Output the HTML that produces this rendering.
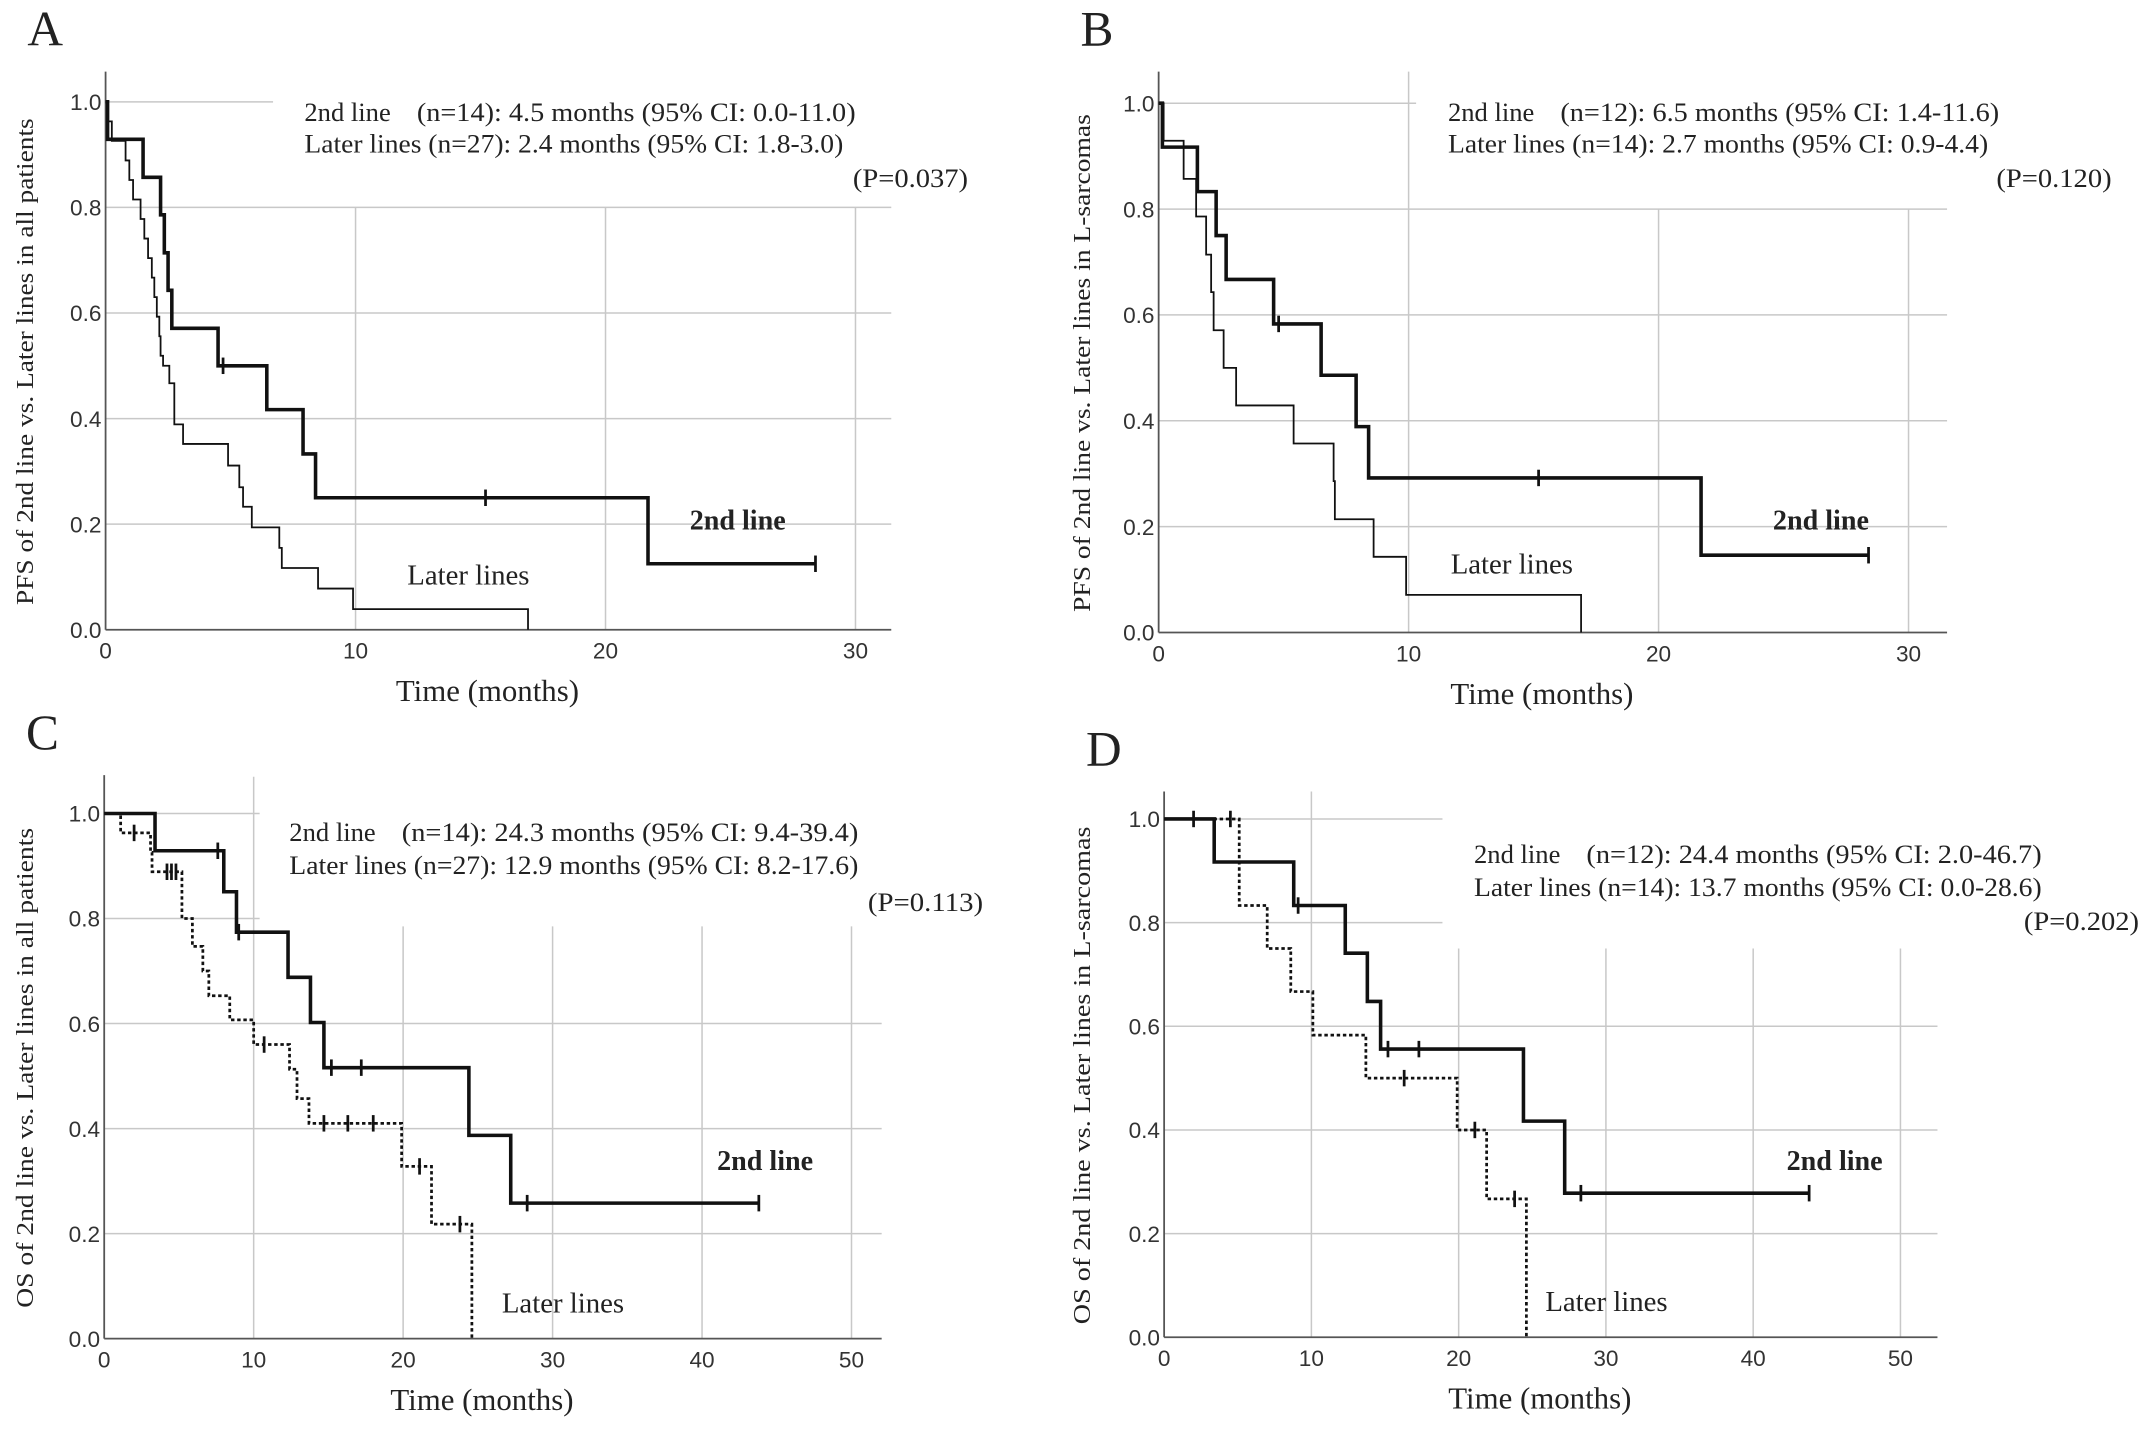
<!DOCTYPE html>
<html><head><meta charset="utf-8">
<style>
html,body{margin:0;padding:0;background:#fff;}
svg{display:block;}
.tick{font-family:"Liberation Sans",sans-serif;font-size:16.5px;fill:#333;}
.serif{font-family:"Liberation Serif",serif;fill:#222;}
</style></head>
<body>
<svg id="fig" width="2150" height="1435" viewBox="0 0 1568 1046" xmlns="http://www.w3.org/2000/svg"></svg>
<script>
// ---- data (times in months, survival proportions) ----
const aSecondT = [0.08,1.5,2.2,2.35,2.5,2.65,4.5,6.45,7.9,8.4,21.7];
const aSecondS = [0.929,0.857,0.786,0.714,0.643,0.571,0.5,0.417,0.333,0.25,0.125];
const aSecondCens = [4.7,15.2,28.4];
const aLaterT = [0.1,0.25,0.8,0.95,1.1,1.4,1.55,1.7,1.85,1.95,2.05,2.15,2.2,2.3,2.55,2.75,3.1,4.9,5.35,5.5,5.85,6.95,7.05,8.5,9.9,16.9];
const aLaterS = [0.963,0.926,0.889,0.852,0.815,0.778,0.741,0.704,0.667,0.630,0.593,0.556,0.519,0.5,0.467,0.389,0.352,0.311,0.27,0.233,0.194,0.155,0.117,0.078,0.039,0];
const aLaterCens = [];

const bSecondT = [0.15,1.55,2.3,2.7,4.6,6.5,7.9,8.4,21.7];
const bSecondS = [0.917,0.833,0.75,0.667,0.583,0.486,0.389,0.292,0.146];
const bSecondCens = [4.8,15.2,28.4];
const bLaterT = [0.2,1.0,1.5,1.9,2.1,2.2,2.6,3.1,5.4,7.0,7.05,8.6,9.9,16.9];
const bLaterS = [0.929,0.857,0.786,0.714,0.643,0.571,0.5,0.429,0.357,0.286,0.214,0.143,0.071,0];
const bLaterCens = [];

const cSecondT = [3.4,8.0,8.85,12.3,13.8,14.7,24.4,27.2];
const cSecondS = [0.929,0.851,0.774,0.688,0.602,0.516,0.387,0.258];
const cSecondCens = [7.6,9.0,15.2,17.2,28.3,43.8];
const cLaterT = [1.1,3.1,3.2,5.2,5.9,6.6,7.0,8.4,10.0,12.4,12.9,13.7,19.9,21.9,24.6];
const cLaterS = [0.963,0.926,0.889,0.80,0.747,0.70,0.653,0.607,0.56,0.513,0.457,0.41,0.328,0.218,0];
const cLaterCens = [2.0,4.2,4.5,4.8,10.7,14.7,16.3,18.0,21.1,23.8];

const dSecondT = [3.4,8.8,12.3,13.8,14.7,24.4,27.2];
const dSecondS = [0.917,0.833,0.741,0.648,0.556,0.417,0.278];
const dSecondCens = [2.0,9.1,15.2,17.3,28.3,43.8];
const dLaterT = [5.1,7.0,8.6,10.1,13.7,19.9,21.9,24.6];
const dLaterS = [0.833,0.75,0.667,0.583,0.5,0.4,0.267,0];
const dLaterCens = [4.5,16.3,21.1,23.8];

const yTicks = ["0.0","0.2","0.4","0.6","0.8","1.0"];
const xTicksPFS = ["0","10","20","30"];
const xTicksOS = ["0","10","20","30","40","50"];

const NS = "http://www.w3.org/2000/svg";
const svg = document.getElementById('fig');
function mk(tag, attrs, parent){
  const e = document.createElementNS(NS, tag);
  for (const k in attrs) e.setAttribute(k, attrs[k]);
  (parent||svg).appendChild(e); return e;
}
function survAt(T,S,t){ let s=1; for(let i=0;i<T.length;i++){ if(T[i]<=t) s=S[i]; } return s; }

const panels = [
 {id:'a', letter:'A', x0:77, per10:182.3, y1:74, y0:459, top:52, right:650, xt:xTicksPFS,
  oneEnd:6.7, vTop:{10:0.8}, vStart:0.8, hFullFrom:0.8,
  ytitle:'PFS of 2nd line vs. Later lines in all patients', ytx:18, ytLen:355,
  leg:[222,82,105], legA:'(n=14): 4.5 months (95% CI: 0.0-11.0)', legB:'Later lines (n=27): 2.4 months (95% CI: 1.8-3.0)', legAend:624, legBend:615,
  p:'(P=0.037)', pX:706, pY:136, lbl2:[503,386], lblL:[297,426],
  s2:[aSecondT,aSecondS,aSecondCens], sL:[aLaterT,aLaterS,aLaterCens], dotted:false},
 {id:'b', letter:'B', x0:845, per10:182.3, y1:75, y0:461, top:52, right:1420, xt:xTicksPFS,
  oneEnd:10.3, vTop:{10:1.07}, vStart:0.8, hFullFrom:0.8,
  ytitle:'PFS of 2nd line vs. Later lines in L-sarcomas', ytx:789, ytLen:363,
  leg:[1056,82,105], legA:'(n=12): 6.5 months (95% CI: 1.4-11.6)', legB:'Later lines (n=14): 2.7 months (95% CI: 0.9-4.4)', legAend:1458, legBend:1450,
  p:'(P=0.120)', pX:1540, pY:136, lbl2:[1293,386], lblL:[1058,418],
  s2:[bSecondT,bSecondS,bSecondCens], sL:[bLaterT,bLaterS,bLaterCens], dotted:false},
 {id:'c', letter:'C', x0:76, per10:109, y1:593, y0:976, top:565, right:643, xt:xTicksOS,
  oneEnd:10.4, vTop:{10:1.07}, vStart:0.785, hFullFrom:0.6, eightEnd:10.4,
  ytitle:'OS of 2nd line vs. Later lines in all patients', ytx:18, ytLen:350,
  leg:[211,607,631], legA:'(n=14): 24.3 months (95% CI: 9.4-39.4)', legB:'Later lines (n=27): 12.9 months (95% CI: 8.2-17.6)', legAend:626, legBend:626,
  p:'(P=0.113)', pX:717, pY:664, lbl2:[523,853], lblL:[366,957],
  s2:[cSecondT,cSecondS,cSecondCens], sL:[cLaterT,cLaterS,cLaterCens], dotted:true},
 {id:'d', letter:'D', x0:849, per10:107.4, y1:597, y0:975, top:577, right:1413, xt:xTicksOS,
  oneEnd:18.9, vTop:{10:1.07}, vStart:0.75, hFullFrom:0.6, eightEnd:18.9,
  ytitle:'OS of 2nd line vs. Later lines in L-sarcomas', ytx:789, ytLen:363,
  leg:[1075,623,647], legA:'(n=12): 24.4 months (95% CI: 2.0-46.7)', legB:'Later lines (n=14): 13.7 months (95% CI: 0.0-28.6)', legAend:1489, legBend:1489,
  p:'(P=0.202)', pX:1560, pY:678, lbl2:[1303,853], lblL:[1127,956],
  s2:[dSecondT,dSecondS,dSecondCens], sL:[dLaterT,dLaterS,dLaterCens], dotted:true}
];

panels.forEach(P=>{
  const g = mk('g',{});
  
  
  const X = t => P.x0 + t/10*P.per10;
  const Y = s => P.y0 - s*(P.y0-P.y1);
  const L = mk('text',{x:P.x0-57, y:P.top-19, class:'serif', 'font-size':36}, g);
  L.textContent = P.letter;
  
  
  const grid = mk('g',{stroke:'#c8c8c8','stroke-width':1.1}, g);
  
  
  yTicks.forEach((lab,i)=>{
    const v = i*0.2; if (i===0) return;
    let xe = P.right;
    if (v>=0.99) xe = X(P.oneEnd);
    else if (v>P.hFullFrom+0.01 && P.eightEnd) xe = X(P.eightEnd);
    mk('line',{x1:P.x0,x2:xe,y1:Y(v),y2:Y(v)},grid);
  });
  P.xt.forEach((lab,i)=>{
    if (i===0) return;
    const t = +lab;
    const st = (P.vTop[t]!==undefined)?P.vTop[t]:P.vStart;
    mk('line',{x1:X(t),x2:X(t),y1:Math.max(Y(st),P.top),y2:P.y0},grid);
  });
  mk('line',{x1:P.x0,x2:P.x0,y1:P.top,y2:P.y0,stroke:'#555','stroke-width':1.3},g);
  mk('line',{x1:P.x0,x2:P.right,y1:P.y0,y2:P.y0,stroke:'#555','stroke-width':1.3},g);
  yTicks.forEach((lab,i)=>{
    const t = mk('text',{x:P.x0-3,y:Y(i*0.2)+6,'text-anchor':'end',class:'tick'},g);
    t.textContent = lab;
    
    
  });
  P.xt.forEach(lab=>{
    const t = mk('text',{x:X(+lab),y:P.y0+21,'text-anchor':'middle',class:'tick'},g);
    t.textContent = lab;
    
    
  });
  const xt = mk('text',{x:(P.x0+P.right)/2-8,y:P.y0+52,'text-anchor':'middle',class:'serif','font-size':22.5},g);
  xt.textContent = 'Time (months)';
  
  
  const cy = (P.top+P.y0)/2+8;
  const yt = mk('text',{x:0,y:0,'text-anchor':'middle',class:'serif','font-size':17.5,
    textLength:P.ytLen,lengthAdjust:'spacingAndGlyphs',
    transform:`translate(${P.ytx+6},${cy}) rotate(-90)`},g);
  yt.textContent = P.ytitle;
  
  
  const l1 = mk('text',{x:P.leg[0],y:P.leg[1]+6,class:'serif','font-size':19,textLength:63,lengthAdjust:'spacingAndGlyphs'},g);
  l1.textContent = '2nd line';
  
  
  const l1b = mk('text',{x:P.leg[0]+82,y:P.leg[1]+6,class:'serif','font-size':19,textLength:P.legAend-P.leg[0]-82,lengthAdjust:'spacingAndGlyphs'},g);
  l1b.textContent = P.legA;
  
  
  const l2 = mk('text',{x:P.leg[0],y:P.leg[2]+6,class:'serif','font-size':19,textLength:P.legBend-P.leg[0],lengthAdjust:'spacingAndGlyphs'},g);
  l2.textContent = P.legB;
  
  
  const pv = mk('text',{x:P.pX,y:P.pY,'text-anchor':'end',class:'serif','font-size':19,textLength:84,lengthAdjust:'spacingAndGlyphs'},g);
  pv.textContent = P.p;
  
  
  function curve(T,S,C,w,dash,name){
    let d = `M${X(0)},${Y(1)}`; let s=1;
    for (let i=0;i<T.length;i++){ d += ` H${X(T[i])} V${Y(S[i])}`; s=S[i]; }
    const last = Math.max(T.length?T[T.length-1]:0, C.length?Math.max(...C):0);
    if (s>0) d += ` H${X(last)}`;
    const p = mk('path',{d:d,fill:'none',stroke:'#111','stroke-width':w,'stroke-dasharray':dash||'none'},g);
    
    
    C.forEach(c=>{
      const sv = survAt(T,S,c);
      const m = mk('line',{x1:X(c),x2:X(c),y1:Y(sv)-6,y2:Y(sv)+6,stroke:'#111','stroke-width':2},g);
      
      
    });
  }
  curve(P.sL[0],P.sL[1],P.sL[2], P.dotted?2:1.3, P.dotted?'2.5,2':null, 'later-lines-curve');
  curve(P.s2[0],P.s2[1],P.s2[2], 2.6, null, 'second-line-curve');
  const t2 = mk('text',{x:P.lbl2[0],y:P.lbl2[1],class:'serif','font-size':20.5,'font-weight':'bold'},g);
  t2.textContent = '2nd line';
  
  
  const tl = mk('text',{x:P.lblL[0],y:P.lblL[1],class:'serif','font-size':21},g);
  tl.textContent = 'Later lines';
  
  
});
</script>
</body></html>
